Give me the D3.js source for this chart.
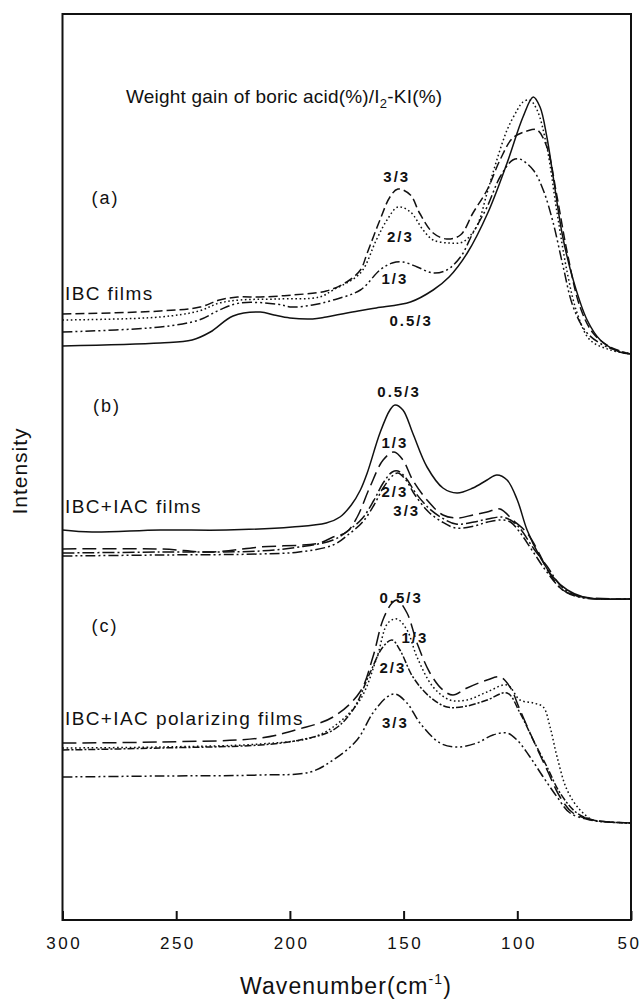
<!DOCTYPE html>
<html>
<head>
<meta charset="utf-8">
<script src="https://cdn.jsdelivr.net/npm/d3@7/dist/d3.min.js"></script>
<style>
  html, body { margin: 0; padding: 0; background: #fff; }
  svg { display: block; }
  text { font-family: "Liberation Sans", Arial, Helvetica, sans-serif; fill: #111; }
</style>
</head>
<body>
<svg id="chart" width="642" height="999"></svg>
<script>
// Far-IR / Raman-type spectra, wavenumber (cm-1) vs. intensity (a.u., stacked panels)
// Each series: [wavenumber, intensity]

// (a) IBC films
const a_05 = [[300,57.9],[257,58.2],[243,58.5],[235,59.3],[225,60.9],[213,61.3],[207,61.0],[200,60.7],[190,60.6],[184,60.8],[170,61.4],[162,61.7],[147,62.3],[137,63.5],[130,64.8],[122,67.2],[113,71.2],[104.5,76.2],[97.5,80.8],[93,82.8],[90,81.8],[87,78.8],[84,74.5],[80,68.8],[75.4,64.5],[69.3,60.5],[63.5,58.5],[55,57.3],[50,57.1]];
const a_1 = [[300,59.3],[257,59.8],[240,60.5],[231,61.5],[222,62.2],[206,62.1],[199,61.8],[190,62.0],[181,62.5],[169,63.5],[160.4,65.5],[155,66.2],[150.3,66.3],[144,65.8],[137,65.2],[131,65.5],[125,66.8],[119.5,69.2],[113.3,71.8],[107.6,74.8],[102,76.5],[99,76.6],[93,75.5],[88.6,73.5],[84.2,70.2],[79.8,65.8],[75.4,61.8],[69.3,59.2],[60.5,57.8],[50,57.1]];
const a_2 = [[300,60.5],[257,60.8],[240,61.4],[231,62.2],[222,62.5],[206,62.6],[187,62.8],[181,63.5],[169,65.2],[162,68.5],[157.3,70.5],[152.5,71.8],[147,71.3],[141.4,69.5],[137,68.5],[130,68.2],[124,68.3],[118,69.8],[113.3,73.2],[109,76.5],[104.5,79.5],[100,81.5],[97.5,82.3],[94.5,82.5],[91.3,81.5],[87,77.8],[82.5,71.2],[78,65.2],[73.7,61.2],[68,58.5],[59,57.5],[50,57.1]];
const a_3 = [[300,61.1],[257,61.4],[239.5,61.8],[231,62.5],[223,62.8],[213,62.8],[199,63.0],[184,63.4],[175,64.3],[169,65.5],[166,67.2],[160.4,70.5],[156,72.8],[152.5,73.6],[147,73.0],[143,71.2],[137,69.2],[131,68.6],[125,69.0],[119.5,71.2],[113.3,73.5],[107.6,76.5],[102,78.7],[95.7,79.4],[91.3,79.5],[87,77.8],[82.5,72.8],[78,67.2],[72.4,61.8],[66.7,59.2],[59.2,57.8],[50,57.1]];

// (b) IBC+IAC films
const b_05 = [[300,39.5],[287,39.3],[257,39.5],[228,39.5],[199,39.8],[184,40.2],[178,40.8],[173,42.0],[169,43.5],[166,45.2],[160.4,49.2],[156,51.5],[153.8,52.0],[150.3,51.5],[146,49.2],[139.7,45.8],[132.7,43.7],[126.5,43.2],[119.5,43.7],[113.3,44.5],[109,45.0],[104.5,44.5],[100,42.5],[95.7,39.5],[90,36.8],[84.3,34.8],[78,33.5],[71,32.8],[63.6,32.6],[50,32.6]];
const b_1 = [[300,37.6],[257,37.6],[235,37.3],[213,37.8],[187,38.2],[181,38.8],[175,39.3],[170.4,40.8],[164.8,43.8],[159,46.5],[154.2,47.3],[150.3,46.5],[146,44.5],[139.7,42.5],[132.7,41.0],[126.5,40.7],[119.5,41.0],[113.3,41.3],[107.6,41.6],[102,40.5],[95.7,39.2],[90,37.0],[87,35.6],[80,33.5],[71,32.8],[50,32.6]];
const b_2 = [[300,37.2],[257,37.3],[213,37.4],[196,37.8],[181,38.5],[174,39.5],[168,40.7],[163,42.5],[159,44.2],[155,45.3],[152.5,45.4],[149,44.7],[145,43.3],[139,41.7],[133,40.7],[127,40.1],[119,40.3],[113,40.6],[107,40.8],[103,40.5],[99,39.7],[93,37.7],[87,35.9],[80,33.7],[72,32.8],[50,32.6]];
const b_3 = [[300,36.9],[257,37.0],[213,37.1],[196,37.3],[181,38.0],[174,39.1],[168,40.3],[163,42.0],[159,43.7],[155,44.9],[152.5,45.2],[149,44.5],[145,43.0],[139,41.3],[133,40.3],[127,39.7],[119,39.9],[113,40.3],[107,40.5],[103,40.3],[99,39.3],[93,37.3],[87,35.3],[80,33.5],[72,32.75],[50,32.6]];

// (c) IBC+IAC polarizing films
const c_05 = [[300,18.2],[257,18.3],[213,18.7],[196,19.6],[181,20.8],[169.2,23.3],[163.5,26.8],[159.1,30.5],[155.1,32.2],[152.9,32.5],[148.5,31.2],[144.1,28.2],[138.4,25.2],[132.7,23.5],[128.3,23.0],[122.1,23.7],[113.3,24.5],[107.6,24.8],[103.2,23.8],[98.8,21.5],[93,18.5],[86.9,15.5],[81.2,12.8],[75.5,11.2],[66.7,10.5],[60,10.3],[50,10.2]];
const c_1 = [[300,17.7],[257,17.8],[213,18.1],[191,18.7],[181,19.8],[169.2,22.5],[161.7,26.8],[156.9,30.2],[152.9,30.6],[148.5,29.5],[144.1,26.8],[137,23.8],[129.6,22.5],[122.1,22.5],[113.3,23.3],[104.5,24.0],[98.8,22.5],[93,22.2],[88.6,21.8],[85.6,19.8],[82.5,16.8],[78.1,13.5],[72.4,11.5],[66.7,10.5],[60,10.3],[50,10.2]];
const c_2 = [[300,17.5],[257,17.7],[213,18.0],[195.6,18.5],[181,19.5],[172.3,21.5],[164.8,25.2],[159.1,27.8],[155.1,28.5],[151.6,27.5],[145.9,24.8],[138.4,22.8],[130.9,21.8],[122.1,21.9],[113.3,22.5],[104.5,23.2],[98.8,21.2],[93,18.5],[86.9,15.8],[81.2,13.2],[73.8,11.2],[66.7,10.5],[60,10.3],[50,10.2]];
const c_3 = [[300,14.8],[257,14.9],[213,15.0],[191,15.3],[181,16.5],[170.5,18.5],[163.5,21.2],[157.3,22.8],[153.8,23.1],[148.5,22.2],[142.8,20.2],[134,18.2],[126.5,17.8],[117.8,18.2],[110.7,19.0],[104.5,19.2],[100.1,18.5],[94.4,16.8],[88.6,14.8],[82.5,12.8],[76.8,11.2],[68,10.5],[60,10.3],[50,10.2]];

// axis ticks
const xTicks = [300, 250, 200, 150, 100, 50];

// curve labels: text, anchor wavenumber, anchor intensity
const curveLabels = [
  ["3/3", 153.0, 74.3], ["2/3", 151.4, 68.3], ["1/3", 153.8, 64.1], ["0.5/3", 146.7, 59.9],
  ["0.5/3", 152.0, 52.8], ["1/3", 153.8, 47.7], ["2/3", 153.8, 42.8], ["3/3", 148.6, 40.9],
  ["0.5/3", 151.1, 32.2], ["1/3", 145.0, 28.2], ["2/3", 154.7, 25.2], ["3/3", 153.6, 19.7]
];
const panelTags = [["(a)", 287.2, 72.1], ["(b)", 286.6, 51.3], ["(c)", 287.2, 29.3]];
const filmNames = [["IBC films", 298.9, 62.5], ["IBC+IAC films", 298.9, 41.2], ["IBC+IAC polarizing films", 298.9, 20.0]];

const svg = d3.select("#chart");
const W = 642;
const plotLeft = 62.5, plotRight = 631, plotTop = 14, plotBottom = 920;

const x = d3.scaleLinear().domain([300, 50]).range([plotLeft, plotRight]);
const y = d3.scaleLinear().domain([0.5, 91.1]).range([plotBottom, plotTop]);

const line = d3.line()
  .x(d => x(d[0]))
  .y(d => y(d[1]))
  .curve(d3.curveCatmullRom.alpha(0.5));

const series = [
  { data: a_05, dash: null },
  { data: a_1,  dash: "10,3,2,3,2,3" },
  { data: a_2,  dash: "1.6,2.6" },
  { data: a_3,  dash: "9,4" },
  { data: b_05, dash: null },
  { data: b_1,  dash: "14,6" },
  { data: b_2,  dash: "12,3,2,3" },
  { data: b_3,  dash: "10,3,2,3,2,3" },
  { data: c_05, dash: "14,6" },
  { data: c_1,  dash: "1.6,2.6" },
  { data: c_2,  dash: "7,2,2,2" },
  { data: c_3,  dash: "10,3,2,3,2,3" }
];

const plot = svg.append("g");
plot.selectAll("path.spec")
  .data(series)
  .join("path")
  .attr("class", "spec")
  .attr("d", d => line(d.data))
  .attr("fill", "none")
  .attr("stroke", "#111")
  .attr("stroke-width", 1.5)
  .attr("stroke-dasharray", d => d.dash);

// frame
svg.append("rect")
  .attr("x", plotLeft).attr("y", plotTop)
  .attr("width", plotRight - plotLeft).attr("height", plotBottom - plotTop)
  .attr("fill", "none").attr("stroke", "#111").attr("stroke-width", 2);

// bottom axis with inward ticks
const xAxis = d3.axisBottom(x).tickValues(xTicks).tickSizeInner(-9).tickSizeOuter(0).tickPadding(17);
const gx = svg.append("g").attr("transform", `translate(0,${plotBottom})`).call(xAxis);
gx.select(".domain").remove();
gx.selectAll(".tick line").attr("stroke", "#111").attr("stroke-width", 2);
gx.selectAll(".tick text")
  .attr("font-family", "Liberation Sans, Arial, sans-serif")
  .attr("font-size", 17)
  .attr("letter-spacing", 2.5)
  .attr("dx", 1.2)
  .attr("fill", "#111");

// keep the last tick label inside the page edge
gx.selectAll(".tick text").each(function() {
  const box = this.getBBox();
  const tx = x(+this.textContent);
  const over = tx + box.x + box.width - (W - 1);
  if (over > 0) d3.select(this).attr("dx", 1.2 - over);
});

// axis titles
const xt = svg.append("text")
  .attr("x", 346).attr("y", 994)
  .attr("text-anchor", "middle")
  .attr("font-size", 23).attr("letter-spacing", 1.1);
xt.append("tspan").text("Wavenumber(cm");
xt.append("tspan").attr("font-size", 14).attr("dy", -10).text("-1");
xt.append("tspan").attr("dy", 10).text(")");

svg.append("text")
  .attr("transform", "translate(27,471) rotate(-90)")
  .attr("text-anchor", "middle")
  .attr("font-size", 21).attr("letter-spacing", 1)
  .text("Intensity");

// heading
const ht = svg.append("text")
  .attr("x", 126).attr("y", 103)
  .attr("font-size", 19).attr("letter-spacing", 0.2);
ht.append("tspan").text("Weight gain of boric acid(%)/I");
ht.append("tspan").attr("font-size", 13).attr("dy", 5).text("2");
ht.append("tspan").attr("dy", -5).text("-KI(%)");

// annotations
svg.append("g").selectAll("text")
  .data(curveLabels)
  .join("text")
  .attr("x", d => x(d[1])).attr("y", d => y(d[2]))
  .attr("text-anchor", "middle")
  .attr("font-size", 15).attr("font-weight", "bold").attr("letter-spacing", 2)
  .text(d => d[0]);

svg.append("g").selectAll("text")
  .data(panelTags)
  .join("text")
  .attr("x", d => x(d[1])).attr("y", d => y(d[2]))
  .attr("font-size", 18).attr("letter-spacing", 2)
  .text(d => d[0]);

svg.append("g").selectAll("text")
  .data(filmNames)
  .join("text")
  .attr("x", d => x(d[1])).attr("y", d => y(d[2]))
  .attr("font-size", 19).attr("letter-spacing", 1.4)
  .text(d => d[0]);
</script>
</body>
</html>
